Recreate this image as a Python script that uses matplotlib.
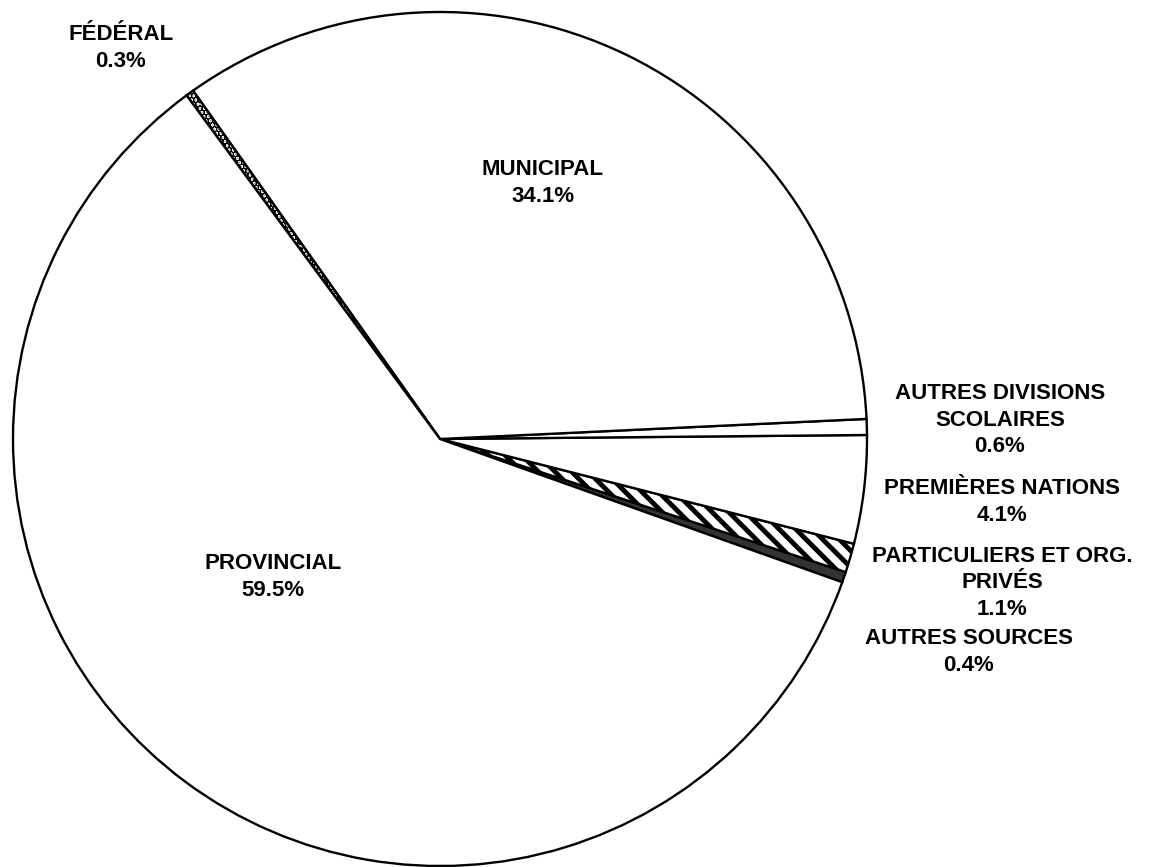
import matplotlib
matplotlib.use("Agg")
import matplotlib.pyplot as plt

# Données (ordre antihoraire à partir de AUTRES SOURCES)
categories = ["AUTRES SOURCES", "PARTICULIERS ET ORG.\nPRIVÉS", "PREMIÈRES NATIONS",
              "AUTRES DIVISIONS\nSCOLAIRES", "MUNICIPAL", "FÉDÉRAL", "PROVINCIAL"]
valeurs = [0.4, 1.1, 4.1, 0.6, 34.1, 0.3, 59.5]
couleurs = ["#333333", "white", "white", "white", "white", "white", "white"]
hachures = [None, "\\\\", None, None, None, "....", None]

# position des étiquettes (pixels, origine en haut à gauche)
etiq_x = [969, 1002, 1002, 1000, 543, 121, 273]
etiq_y = [652, 583, 502, 420, 183, 48, 577]

plt.rcParams["font.family"] = ["Liberation Sans", "DejaVu Sans"]
plt.rcParams["hatch.linewidth"] = 3.5

W, H = 1151, 867
fig = plt.figure(figsize=(W / 100, H / 100), dpi=100)
ax = fig.add_axes([0, 0, 1, 1])
ax.set_xlim(0, W)
ax.set_ylim(0, H)

cx, cy, r = 440, H - 439, 427
wedges, _ = ax.pie(valeurs, colors=couleurs, startangle=-19.6, counterclock=True,
                   center=(cx, cy), radius=r, frame=True,
                   wedgeprops=dict(edgecolor="black", linewidth=1.7))
for w, h in zip(wedges, hachures):
    if h:
        w.set_hatch(h)

for nom, val, x, y in zip(categories, valeurs, etiq_x, etiq_y):
    ax.text(x, H - y, f"{nom}\n{val:.1f}%", ha="center", va="center",
            fontsize=16, fontweight="bold", linespacing=1.35)

ax.set_aspect("equal")
ax.axis("off")
fig.savefig("out.png", dpi=100)
